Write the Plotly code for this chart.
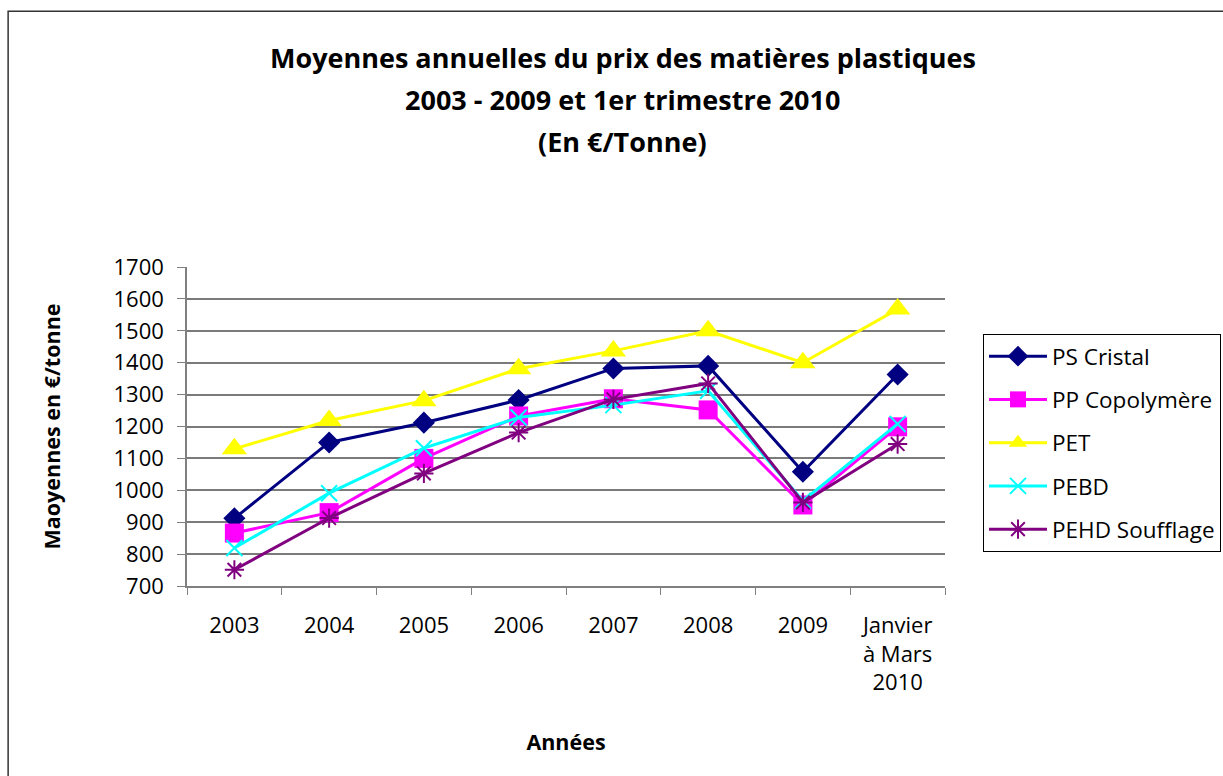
import plotly.graph_objects as go

categories = ["2003", "2004", "2005", "2006", "2007", "2008", "2009", "Janvier à Mars 2010"]
tick_labels = ["2003", "2004", "2005", "2006", "2007", "2008", "2009", "Janvier<br>à Mars<br>2010"]

ps_cristal = [912, 1150, 1212, 1283, 1382, 1390, 1058, 1363]
pp_copolymere = [866, 930, 1100, 1233, 1287, 1252, 954, 1199]
pet = [1130, 1219, 1281, 1381, 1437, 1500, 1400, 1568]
pebd = [819, 991, 1132, 1228, 1267, 1312, 967, 1208]
pehd_soufflage = [751, 913, 1053, 1181, 1285, 1335, 962, 1145]

series = [
    ("PS Cristal", ps_cristal, "#000080", "diamond", 17, 0),
    ("PP Copolymère", pp_copolymere, "#FF00FF", "square", 19, 0),
    ("PET", pet, "#FFFF00", "triangle-up", 22, 0),
    ("PEBD", pebd, "#00FFFF", "x-thin-open", 16, 2),
    ("PEHD Soufflage", pehd_soufflage, "#800080", "asterisk-open", 16, 2),
]

FONT = "Open Sans"

fig = go.Figure()
for i, (name, vals, color, sym, size, lw) in enumerate(series):
    marker = dict(symbol=sym, size=size, color=color)
    if lw:
        marker["line"] = dict(color=color, width=lw)
    else:
        marker["line"] = dict(width=0)
    fig.add_trace(go.Scatter(
        x=categories, y=vals, name=name, mode="lines+markers",
        line=dict(color=color, width=3), marker=marker,
        legendgroup=f"g{i}",
    ))

# body margin is removed in the page, so the div starts at (0, 0)
OFF = 0
W, H = 1223 - OFF, 776 - OFF
# plot area in page pixels: x 187.3..945, y 266.7..586.3
PX0, PX1, PY0, PY1 = 187.3, 945.0, 266.7, 586.3
def px(x):
    return (x - PX0) / (PX1 - PX0)
def py(y):
    return (PY1 - y) / (PY1 - PY0)

title_lines = [
    ("Moyennes annuelles du prix des matières plastiques", 57),
    ("2003 - 2009 et 1er trimestre 2010", 99),
    ("(En €/Tonne)", 141),
]
annotations = []
for txt, yy in title_lines:
    annotations.append(dict(
        text=txt, xref="paper", yref="paper", x=px(623), y=py(yy),
        xanchor="center", yanchor="middle", showarrow=False,
        font=dict(family=FONT, size=27, color="black", weight="bold"),
    ))

fig.update_layout(
    width=W, height=H,
    margin=dict(l=round(PX0 - OFF), r=round(W - (PX1 - OFF)),
                t=round(PY0 - OFF), b=round(H - (PY1 - OFF))),
    paper_bgcolor="white", plot_bgcolor="white",
    font=dict(family=FONT, color="black"),
    showlegend=True,
    legend=dict(
        xref="container", yref="container",
        x=(983 - OFF) / W, y=1 - (334 - OFF) / H, xanchor="left", yanchor="top",
        bordercolor="black", borderwidth=1, bgcolor="white",
        font=dict(family=FONT, size=22.5, color="black"),
        itemwidth=58, tracegroupgap=11, traceorder="grouped",
    ),
    annotations=annotations,
    shapes=[dict(
        type="rect", xref="paper", yref="paper",
        x0=px(8.5), x1=px(1240), y0=py(10.5), y1=py(800),
        line=dict(color="#333333", width=1.5), fillcolor="rgba(0,0,0,0)",
        layer="below",
    )],
)

fig.update_xaxes(
    type="category", tickvals=categories, ticktext=tick_labels,
    tickson="boundaries", ticks="outside", ticklen=7, tickcolor="#808080",
    showline=True, linecolor="#808080", linewidth=1.5,
    showgrid=False, zeroline=False,
    tickfont=dict(family=FONT, size=22, color="black"),
    ticklabelstandoff=19,
    title=dict(text="Années", font=dict(family=FONT, size=21.5, color="black", weight="bold"), standoff=40),
    range=[-0.5, 7.5],
)
fig.update_yaxes(
    range=[700, 1700], dtick=100, tick0=700,
    ticks="outside", ticklen=8, tickcolor="#808080",
    showline=True, linecolor="#808080", linewidth=1.5,
    showgrid=True, gridcolor="#7a7a7a", gridwidth=1.5,
    zeroline=False,
    tickfont=dict(family=FONT, size=22, color="black"),
    ticklabelstandoff=9,
    title=dict(text="Maoyennes en €/tonne", font=dict(family=FONT, size=21.5, color="black", weight="bold"), standoff=47),
)

fig.write_html(
    "out.html",
    config={"displayModeBar": False},
    post_script="document.body.style.margin='0';document.body.style.overflow='hidden';",
)
